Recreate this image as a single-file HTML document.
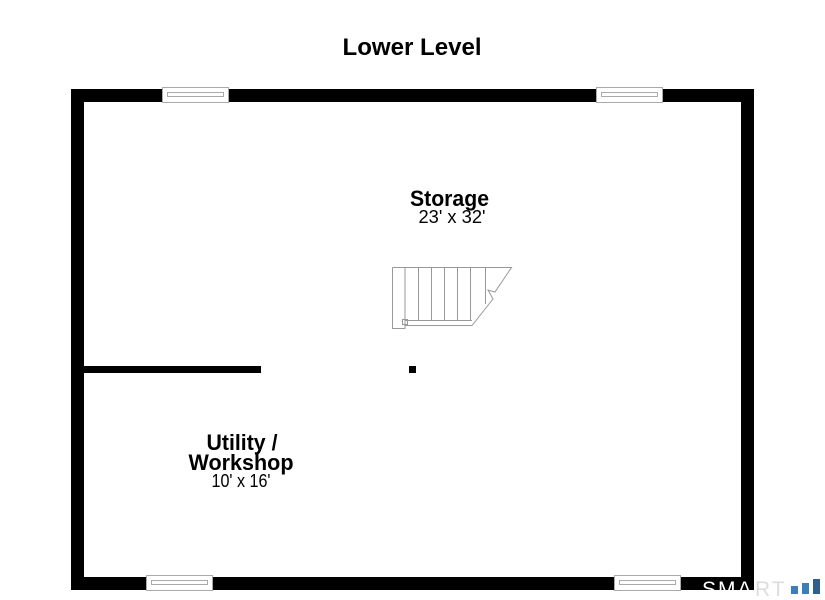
<!DOCTYPE html>
<html><head><meta charset="utf-8"><style>
html,body{margin:0;padding:0;background:#fff;width:825px;height:600px;overflow:hidden}
</style></head><body>
<svg width="825" height="600" xmlns="http://www.w3.org/2000/svg" font-family="Liberation Sans, sans-serif">
<rect width="825" height="600" fill="#fff"/>
<text x="412" y="55" font-size="24" font-weight="bold" text-anchor="middle" textLength="139" lengthAdjust="spacingAndGlyphs">Lower Level</text>
<!-- walls -->
<path d="M71 89H754V590H71Z M84 102V577H741V102Z" fill="#000" fill-rule="evenodd"/>
<rect x="84" y="366" width="177" height="7" fill="#000"/>
<rect x="409" y="366" width="7" height="7" fill="#000"/>
<!-- windows -->
<g fill="#fff" stroke="#aaa" stroke-width="1">
<rect x="162.5" y="87.5" width="66" height="15"/><rect x="167.5" y="92.5" width="56" height="4"/>
<rect x="596.5" y="87.5" width="66" height="15"/><rect x="601.5" y="92.5" width="56" height="4"/>
<rect x="146.5" y="575.5" width="66" height="15"/><rect x="151.5" y="580.5" width="56" height="4"/>
<rect x="614.5" y="575.5" width="66" height="15"/><rect x="619.5" y="580.5" width="56" height="4"/>
</g>
<!-- stairs -->
<g fill="none" stroke="#999" stroke-width="1">
<path d="M392.5 267.5H511.5L495 292L488 290L493 299L472 325.5H405"/>
<path d="M392.5 267.5V328.5H405V267.5"/>
<path d="M418.5 267.5V321 M431.5 267.5V321 M444.5 267.5V321 M457.5 267.5V321 M470.5 267.5V321 M485.5 267.5V304"/>
<path d="M405 320.5H472"/>
<rect x="402.5" y="319.5" width="5" height="5"/>
</g>
<text x="449.5" y="206" font-size="22.5" font-weight="bold" text-anchor="middle" textLength="79" lengthAdjust="spacingAndGlyphs">Storage</text>
<text x="452" y="223" font-size="18" text-anchor="middle" textLength="67" lengthAdjust="spacingAndGlyphs">23' x 32'</text>
<text x="242" y="450" font-size="22.5" font-weight="bold" text-anchor="middle" textLength="71" lengthAdjust="spacingAndGlyphs">Utility /</text>
<text x="241" y="470" font-size="22.5" font-weight="bold" text-anchor="middle" textLength="105" lengthAdjust="spacingAndGlyphs">Workshop</text>
<text x="241" y="487" font-size="18" text-anchor="middle" textLength="59" lengthAdjust="spacingAndGlyphs">10' x 16'</text>
<!-- logo -->
<text x="702" y="596" font-size="21" fill="#fff" letter-spacing="2">SMA</text>
<text x="755" y="596" font-size="21" fill="#ddd" letter-spacing="2">RT</text>
<rect x="791" y="586" width="7" height="8" fill="#3b7fb8"/>
<rect x="802" y="583" width="7" height="11" fill="#3b7fb8"/>
<rect x="813" y="579" width="7" height="15" fill="#2f5f8a"/>
</svg>
</body></html>
